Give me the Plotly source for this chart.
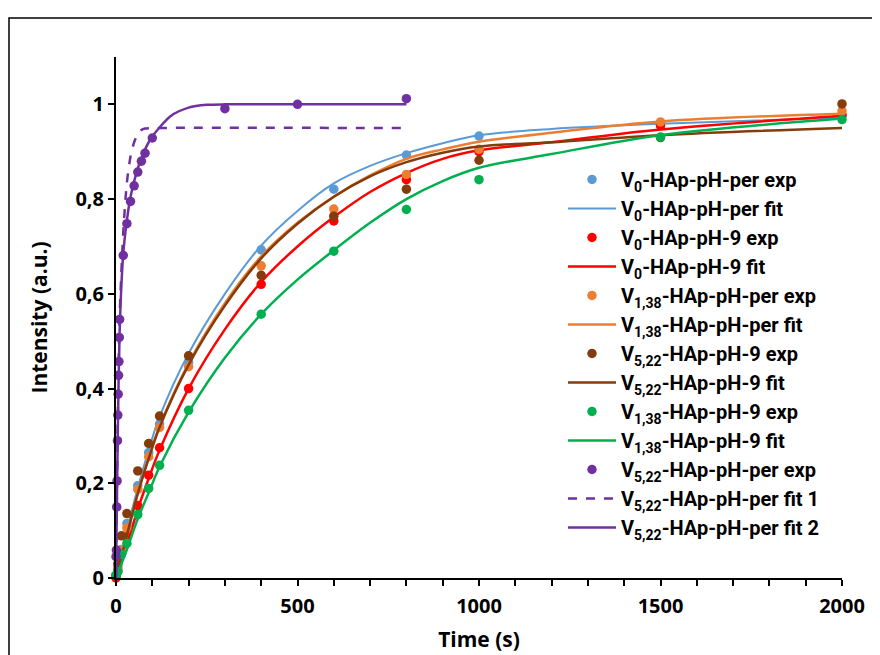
import plotly.graph_objects as go

# ---------------- data ----------------
t_exp = [0, 5, 15, 30, 60, 90, 120, 200, 400, 600, 800, 1000, 1500, 2000]
v0_per_exp = [0.005, 0.02, 0.06, 0.115, 0.195, 0.265, 0.325, 0.455, 0.693, 0.821, 0.893, 0.933, 0.960, 0.975]
v0_9_exp = [0.0, 0.015, 0.05, 0.087, 0.153, 0.217, 0.275, 0.400, 0.620, 0.754, 0.841, 0.900, 0.955, 0.978]
v138_per_exp = [0.005, 0.024, 0.059, 0.106, 0.187, 0.256, 0.318, 0.446, 0.659, 0.779, 0.852, 0.905, 0.963, 0.986]
v522_9_exp = [0.005, 0.03, 0.089, 0.136, 0.226, 0.284, 0.342, 0.469, 0.639, 0.764, 0.821, 0.882, 0.930, 1.001]
v138_9_exp = [0.006, 0.013, 0.05, 0.073, 0.134, 0.189, 0.238, 0.354, 0.557, 0.690, 0.778, 0.841, 0.931, 0.968]

t_fit = [0, 15, 30, 60, 90, 120, 200, 300, 400, 500, 600, 700, 800, 900, 1000, 1200, 1500, 2000]
v0_per_fit = [0, 0.05, 0.10, 0.19, 0.27, 0.34, 0.474, 0.60, 0.702, 0.775, 0.833, 0.870, 0.897, 0.918, 0.935, 0.948, 0.959, 0.972]
v0_9_fit = [0, 0.035, 0.07, 0.145, 0.21, 0.27, 0.40, 0.525, 0.625, 0.70, 0.762, 0.815, 0.855, 0.885, 0.903, 0.92, 0.947, 0.976]
v138_per_fit = [0, 0.045, 0.09, 0.18, 0.255, 0.32, 0.453, 0.58, 0.679, 0.75, 0.805, 0.85, 0.885, 0.905, 0.921, 0.94, 0.964, 0.980]
v522_9_fit = [0, 0.045, 0.09, 0.178, 0.252, 0.318, 0.45, 0.575, 0.675, 0.748, 0.805, 0.848, 0.878, 0.898, 0.911, 0.92, 0.935, 0.950]
v138_9_fit = [0, 0.03, 0.06, 0.125, 0.18, 0.235, 0.35, 0.465, 0.557, 0.63, 0.692, 0.75, 0.80, 0.838, 0.866, 0.895, 0.935, 0.970]

t_p_exp = [0, 1, 2, 3, 4, 5, 6, 7, 8, 9, 10, 20, 30, 40, 50, 60, 70, 80, 100, 300, 500, 800]
v522_per_exp = [0.045, 0.059, 0.150, 0.205, 0.290, 0.344, 0.388, 0.428, 0.457, 0.508, 0.546, 0.681,
                0.748, 0.795, 0.828, 0.857, 0.880, 0.897, 0.929, 0.991, 1.0, 1.012]

t_p_fit1 = [0, 2, 5, 10, 20, 30, 40, 50, 60, 70, 80, 100, 800]
v522_per_fit1 = [0, 0.15, 0.34, 0.55, 0.73, 0.835, 0.89, 0.92, 0.937, 0.946, 0.949, 0.95, 0.95]

t_p_fit2 = [0, 2, 5, 10, 20, 30, 40, 60, 80, 100, 150, 200, 250, 300, 500, 800]
v522_per_fit2 = [0, 0.13, 0.31, 0.52, 0.685, 0.755, 0.805, 0.865, 0.905, 0.932, 0.975, 0.993, 0.999, 1.0, 1.0, 1.0]

# ---------------- styles ----------------
BLUE = "#5B9BD5"
RED = "#FF0000"
ORANGE = "#ED7D31"
BROWN = "#843C0C"
GREEN = "#00B050"
PURPLE = "#7030A0"
FONT = "Open Sans"
LEG_FONT = "Roboto"

fig = go.Figure()

def exp_trace(x, y, color, name):
    fig.add_trace(go.Scatter(x=x, y=y, mode="markers", name=name,
                             marker=dict(color=color, size=9.5), cliponaxis=False))

def fit_trace(x, y, color, name, width=2.5, dash="solid", smoothing=1.0):
    fig.add_trace(go.Scatter(x=x, y=y, mode="lines", name=name,
                             line=dict(color=color, width=width, dash=dash,
                                       shape="spline", smoothing=smoothing),
                             cliponaxis=False))

exp_trace(t_exp, v0_per_exp, BLUE, "V<sub>0</sub>-HAp-pH-per exp")
fit_trace(t_fit, v0_per_fit, BLUE, "V<sub>0</sub>-HAp-pH-per fit", width=2)
exp_trace(t_exp, v0_9_exp, RED, "V<sub>0</sub>-HAp-pH-9 exp")
fit_trace(t_fit, v0_9_fit, RED, "V<sub>0</sub>-HAp-pH-9 fit")
exp_trace(t_exp, v138_per_exp, ORANGE, "V<sub>1,38</sub>-HAp-pH-per exp")
fit_trace(t_fit, v138_per_fit, ORANGE, "V<sub>1,38</sub>-HAp-pH-per fit")
exp_trace(t_exp, v522_9_exp, BROWN, "V<sub>5,22</sub>-HAp-pH-9 exp")
fit_trace(t_fit, v522_9_fit, BROWN, "V<sub>5,22</sub>-HAp-pH-9 fit")
exp_trace(t_exp, v138_9_exp, GREEN, "V<sub>1,38</sub>-HAp-pH-9 exp")
fit_trace(t_fit, v138_9_fit, GREEN, "V<sub>1,38</sub>-HAp-pH-9 fit")
exp_trace(t_p_exp, v522_per_exp, PURPLE, "V<sub>5,22</sub>-HAp-pH-per exp")
fit_trace(t_p_fit1, v522_per_fit1, PURPLE, "V<sub>5,22</sub>-HAp-pH-per fit 1", dash="dash", smoothing=0.7)
fit_trace(t_p_fit2, v522_per_fit2, PURPLE, "V<sub>5,22</sub>-HAp-pH-per fit 2", smoothing=0.7)

W, H = 880, 655
L, R, T, B = 108, 46, 49, 85
pw, ph = W - L - R, H - T - B

fig.update_layout(
    width=W, height=H,
    margin=dict(l=L, r=R, t=T, b=B, autoexpand=False),
    paper_bgcolor="white", plot_bgcolor="white",
    separators=",.",
    font=dict(family=FONT, size=20, color="black", weight="bold"),
    showlegend=True,
    legend=dict(x=(555 - L) / pw, y=(H - B - 152) / ph, xanchor="left", yanchor="top",
                bgcolor="rgba(0,0,0,0)", tracegroupgap=0, itemwidth=48,
                font=dict(family=LEG_FONT, size=20, color="black", weight="bold")),
    xaxis=dict(range=[0, 2000], showgrid=False, zeroline=False,
               showline=True, linecolor="black", linewidth=2,
               ticks="outside", ticklen=6, tickwidth=1.5, tickcolor="black",
               dtick=500, tick0=0, ticklabelstandoff=3,
               minor=dict(dtick=100, ticks="outside", ticklen=6, tickwidth=1.5, tickcolor="black"),
               tickfont=dict(family=FONT, size=20, weight="bold"),
               title=dict(text="Time (s)", standoff=14,
                          font=dict(family=FONT, size=21, weight="bold"))),
    yaxis=dict(range=[0, 1.1], showgrid=False, zeroline=False,
               showline=True, linecolor="black", linewidth=2,
               ticks="outside", ticklen=6, tickwidth=1.5, tickcolor="black",
               dtick=0.2, tick0=0,
               tickfont=dict(family=FONT, size=20, weight="bold"),
               title=dict(text="Intensity (a.u.)", standoff=22,
                          font=dict(family=FONT, size=21, weight="bold"))),
    shapes=[dict(type="rect", xref="paper", yref="paper",
                 x0=(1 - L) / pw, x1=1.3, y0=-0.5, y1=(H - B - 10) / ph,
                 line=dict(color="black", width=1.5), fillcolor="rgba(0,0,0,0)", layer="below")],
)

fig.write_html("out.html")
